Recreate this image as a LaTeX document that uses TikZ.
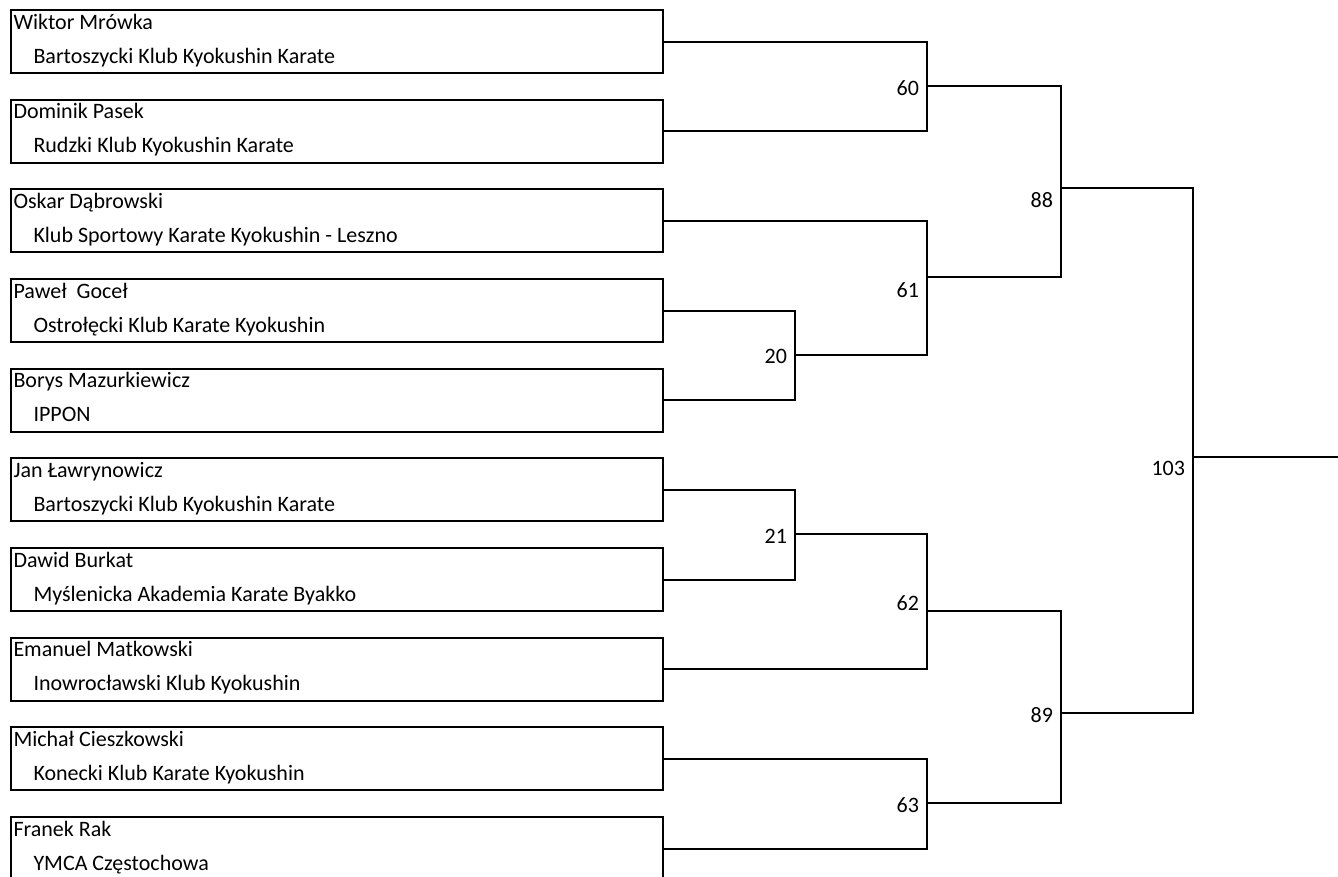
\documentclass[tikz,border=0pt]{standalone}
\usepackage{fontspec}
\setmainfont{Carlito}
\usepackage{tikz}
\usetikzlibrary{positioning}

\begin{document}
\begin{tikzpicture}[x=1pt, y=-1pt, line width=2pt,
  entrant/.style={draw, rectangle, anchor=north west, minimum width=652pt, minimum height=63pt, inner sep=0pt},
  fighter/.style={anchor=base west, inner sep=0pt, font=\fontsize{22}{27}\selectfont},
  club/.style={anchor=base west, inner sep=0pt, font=\fontsize{22}{27}\selectfont},
  bout/.style={anchor=base east, inner sep=0pt, font=\fontsize{22}{27}\selectfont}]
  \useasboundingbox (0,0) rectangle (1338,876);

  % entrants
  \node[entrant] (p1) at (9.5,9) {};
  \node[fighter] at ([shift={(3,20)}]p1.north west) {Wiktor Mrówka};
  \node[club] at ([shift={(23,54)}]p1.north west) {Bartoszycki Klub Kyokushin Karate};
  \node[entrant] (p2) at (9.5,98.67) {};
  \node[fighter] at ([shift={(3,20)}]p2.north west) {Dominik Pasek};
  \node[club] at ([shift={(23,54)}]p2.north west) {Rudzki Klub Kyokushin Karate};
  \node[entrant] (p3) at (9.5,188.33) {};
  \node[fighter] at ([shift={(3,20)}]p3.north west) {Oskar Dąbrowski};
  \node[club] at ([shift={(23,54)}]p3.north west) {Klub Sportowy Karate Kyokushin - Leszno};
  \node[entrant] (p4) at (9.5,278) {};
  \node[fighter] at ([shift={(3,20)}]p4.north west) {Paweł\ \ Goceł};
  \node[club] at ([shift={(23,54)}]p4.north west) {Ostrołęcki Klub Karate Kyokushin};
  \node[entrant] (p5) at (9.5,367.67) {};
  \node[fighter] at ([shift={(3,20)}]p5.north west) {Borys Mazurkiewicz};
  \node[club] at ([shift={(23,54)}]p5.north west) {IPPON};
  \node[entrant] (p6) at (9.5,457.33) {};
  \node[fighter] at ([shift={(3,20)}]p6.north west) {Jan Ławrynowicz};
  \node[club] at ([shift={(23,54)}]p6.north west) {Bartoszycki Klub Kyokushin Karate};
  \node[entrant] (p7) at (9.5,547) {};
  \node[fighter] at ([shift={(3,20)}]p7.north west) {Dawid Burkat};
  \node[club] at ([shift={(23,54)}]p7.north west) {Myślenicka Akademia Karate Byakko};
  \node[entrant] (p8) at (9.5,636.67) {};
  \node[fighter] at ([shift={(3,20)}]p8.north west) {Emanuel Matkowski};
  \node[club] at ([shift={(23,54)}]p8.north west) {Inowrocławski Klub Kyokushin};
  \node[entrant] (p9) at (9.5,726.33) {};
  \node[fighter] at ([shift={(3,20)}]p9.north west) {Michał Cieszkowski};
  \node[club] at ([shift={(23,54)}]p9.north west) {Konecki Klub Karate Kyokushin};
  \node[entrant] (p10) at (9.5,816) {};
  \node[fighter] at ([shift={(3,20)}]p10.north west) {Franek Rak};
  \node[club] at ([shift={(23,54)}]p10.north west) {YMCA Częstochowa};

  % bout junctions
  \coordinate (m20) at (795,355);
  \coordinate (m21) at (795,534);
  \coordinate (m60) at (927,86);
  \coordinate (m61) at (927,277);
  \coordinate (m62) at (927,611);
  \coordinate (m63) at (927,803);
  \coordinate (m88) at (1061,188);
  \coordinate (m89) at (1061,713);
  \coordinate (m103) at (1193,457);
  \coordinate (out) at (1338,457);

  % bout numbers
  \node[bout] (l20) at (788,363) {20};
  \node[bout] (l21) at (788,543) {21};
  \node[bout] (l60) at (920,95) {60};
  \node[bout] (l61) at (920,297) {61};
  \node[bout] (l62) at (920,610) {62};
  \node[bout] (l63) at (920,812) {63};
  \node[bout] (l88) at (1054,207) {88};
  \node[bout] (l89) at (1054,722) {89};
  \node[bout] (l103) at (1186,475) {103};

  \draw (p1.east) -| (m60) |- (p2.east);
  \draw (p4.east) -| (m20) |- (p5.east);
  \draw (p3.east) -| (m61) |- (m20);
  \draw (p6.east) -| (m21) |- (p7.east);
  \draw (m21) -| (m62) |- (p8.east);
  \draw (p9.east) -| (m63) |- (p10.east);
  \draw (m60) -| (m88) |- (m61);
  \draw (m62) -| (m89) |- (m63);
  \draw (m88) -| (m103) |- (m89);
  \draw (m103) -- (out);
\end{tikzpicture}
\end{document}
